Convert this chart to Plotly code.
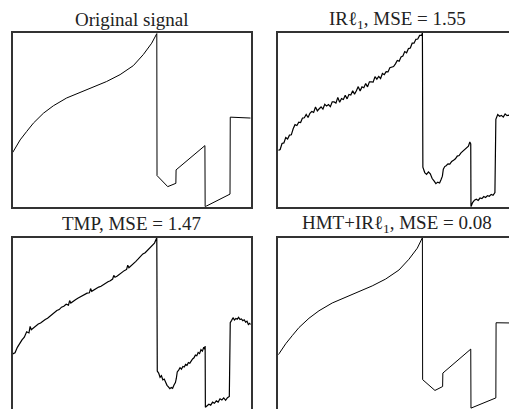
import plotly.graph_objects as go

# ---------------------------------------------------------------------------
# Piece-regular test signal (sample index 0..1024) and three reconstructions
# ---------------------------------------------------------------------------
N_SAMPLES = 1024
Y_MIN, Y_MAX = -14.0, 44.0

ELL = "<span style=\"font-family:'DejaVu Serif'\">\u2113</span>"
titles = [
    "Original signal",
    "IR" + ELL + "<sub>1</sub>, MSE = 1.55",
    "TMP, MSE = 1.47",
    "HMT+IR" + ELL + "<sub>1</sub>, MSE = 0.08",
]

# Original signal
orig_x = [0, 32, 60, 89, 132, 175, 232, 290, 347, 404, 462, 519, 562, 598, 620,
          621, 667, 702, 703, 827,
          828, 935,
          936, 1024]
orig_y = [4.1, 8.3, 11.1, 13.9, 17.2, 19.7, 22.3, 24.2, 25.9, 27.8, 30.1, 33.1, 36.8, 40.6, 43.8,
          -3.6, -7.3, -6.2, -1.7, 6.4,
          -14.0, -9.8,
          15.9, 15.6]

# IR-l1 reconstruction
irl1_x = [0, 8, 16, 24, 32, 40, 48, 56, 64, 72, 80, 88, 96, 104, 112, 120, 128, 136,
          144, 152, 160, 168, 176, 184, 192, 200, 208, 216, 224, 232, 240, 248, 256,
          264, 272, 280, 288, 296, 304, 312, 320, 328, 336, 344, 352, 360, 368, 376,
          384, 392, 400, 408, 416, 424, 432, 440, 448, 456, 464, 472, 480, 488, 496,
          504, 512, 520, 528, 536, 544, 552, 560, 568, 576, 584, 592, 600, 608, 616,
          620,
          622, 630, 638, 646, 654, 662, 670, 678, 686, 694, 700, 706, 710, 716, 722,
          730, 738, 746, 754, 762, 770, 778, 786, 794, 802, 810, 818, 824, 828,
          829, 836, 844, 852, 860, 868, 876, 884, 892, 900, 908, 916, 924, 932,
          936, 944, 952, 960, 968, 976, 984, 992, 1000, 1010, 1024]
irl1_y = [4.8, 5.1, 7.1, 7.3, 9.1, 8.6, 9.9, 10.0, 12.0, 13.4, 13.1, 14.2, 14.1, 15.6,
          15.7, 16.8, 15.8, 17.2, 17.8, 17.5, 19.3, 18.0, 18.7, 19.3, 18.6, 20.2, 19.6,
          20.1, 19.4, 21.0, 21.0, 20.6, 22.5, 20.9, 22.1, 21.8, 23.2, 22.0, 23.5, 23.3,
          24.7, 23.6, 24.7, 26.1, 24.6, 26.0, 25.7, 27.1, 26.0, 27.7, 27.7, 27.6, 29.4,
          28.6, 29.5, 28.8, 30.5, 30.1, 31.1, 31.0, 32.4, 32.7, 32.8, 33.7, 34.8, 34.6,
          36.0, 36.3, 37.8, 37.4, 38.8, 39.0, 40.6, 40.6, 41.9, 42.0, 43.2, 43.2,
          44.0,
          -0.8, -2.6, -3.2, -2.4, -3.0, -4.6, -5.4, -6.3, -5.8, -6.1, -5.0, -3.8, -1.5,
          -0.6, -0.3, 0.3, 0.2, 1.1, 1.5, 2.0, 2.9, 3.1, 4.0, 4.6, 5.0, 5.9, 6.2, 7.6, 7.0,
          -14.0, -12.6, -11.8, -11.5, -11.9, -11.1, -11.3, -10.6, -10.9, -10.3, -10.5,
          -9.9, -10.2, -9.3,
          15.2, 16.8, 16.2, 16.5, 15.9, 17.0, 16.4, 16.6, 16.1, 16.4, 16.0]

# TMP reconstruction
tmp_x = [0, 10, 20, 30, 40, 50, 60, 70, 75, 80, 90, 100, 110, 120, 130, 140, 150, 160,
         170, 180, 190, 200, 210, 220, 230, 240, 245, 250, 260, 270, 280, 290, 300, 310,
         320, 330, 335, 340, 350, 360, 370, 380, 390, 400, 410, 420, 430, 435, 440, 450,
         460, 470, 480, 490, 495, 500, 510, 520, 530, 540, 550, 560, 570, 580, 590, 600,
         610, 620,
         622, 628, 634, 640, 646, 652, 658, 664, 670, 676, 682, 688, 694, 700, 704, 708,
         714, 720, 726, 732, 738, 744, 750, 756, 762, 768, 774, 780, 786, 792, 798, 804,
         810, 816, 822, 826, 828,
         829, 836, 844, 852, 860, 868, 876, 884, 892, 900, 908, 916, 924, 932,
         936, 942, 948, 954, 960, 966, 972, 978, 984, 990, 996, 1002, 1008, 1014, 1020,
         1024]
tmp_y = [5.2, 5.6, 7.4, 8.7, 9.9, 10.8, 12.6, 12.2, 14.4, 13.3, 14.0, 14.6, 15.2, 15.5,
         16.2, 16.7, 17.1, 17.8, 18.3, 18.9, 19.7, 20.0, 20.8, 21.1, 21.8, 21.5, 23.0,
         22.2, 22.9, 23.3, 23.8, 24.2, 24.6, 25.0, 25.5, 25.6, 27.0, 26.1, 26.6, 27.0,
         27.5, 27.8, 28.4, 28.7, 29.3, 29.6, 30.2, 31.4, 30.8, 31.2, 31.9, 32.3, 33.0,
         33.4, 34.8, 34.0, 34.6, 35.2, 36.1, 36.9, 37.8, 38.6, 39.0, 39.8, 40.3, 41.4,
         42.2, 44.0,
         -0.5, -1.2, -2.6, -2.1, -3.5, -3.2, -4.3, -5.3, -5.8, -6.4, -6.0, -6.3, -5.2,
         -4.4, -3.0, -0.8, -0.2, 0.6, 0.1, 1.0, 0.8, 1.7, 1.4, 2.3, 2.1, 3.0, 3.5, 3.9,
         4.8, 4.6, 5.7, 5.3, 6.6, 6.1, 7.4, 6.8, 7.8,
         -12.6, -12.0, -11.6, -11.9, -10.9, -11.3, -10.5, -10.9, -9.8, -10.2, -9.5,
         -10.3, -9.4, -9.0,
         15.6, 16.4, 17.3, 16.5, 17.0, 16.8, 17.4, 16.7, 16.9, 16.3, 16.6, 15.8, 16.1,
         15.0, 15.4, 15.0]

# HMT + IR-l1 reconstruction
hmt_x = [0, 32, 60, 89, 132, 175, 232, 290, 347, 404, 462, 519, 562, 598, 620,
         621, 674, 707, 708, 828,
         829, 936,
         937, 1024]
hmt_y = [4.9, 8.6, 11.3, 14.0, 17.1, 19.6, 22.2, 24.2, 25.9, 27.9, 30.2, 33.2, 36.8, 40.5, 44.0,
         -3.4, -7.0, -5.7, -1.2, 6.8,
         -12.9, -9.5,
         15.6, 15.5]

series = [(orig_x, orig_y), (irl1_x, irl1_y), (tmp_x, tmp_y), (hmt_x, hmt_y)]
line_widths = [1.0, 1.2, 1.2, 1.0]

# ---------------------------------------------------------------------------
# Layout: 2x2 panels; the right column and bottom row run past the page edge
# ---------------------------------------------------------------------------
W, H = 509, 409
panel_w, panel_h = 238.0, 173.7
col_left = [12.7, 278.3]   # px from left
row_top = [33.0, 237.7]    # px from top

fig = go.Figure()
frame = dict(color="#333333", width=1.5)

for k, (xs, ys) in enumerate(series):
    r, c = divmod(k, 2)
    x0 = col_left[c]
    x1 = x0 + panel_w
    y0 = row_top[r]
    y1 = y0 + panel_h
    # visible part of the panel, and matching data ranges
    vx1 = min(x1, W)
    vy1 = min(y1, H)
    xr = [0, N_SAMPLES * (vx1 - x0) / panel_w]
    yr = [Y_MAX - (Y_MAX - Y_MIN) * (vy1 - y0) / panel_h, Y_MAX]
    n = "" if k == 0 else str(k + 1)
    fig.add_trace(go.Scatter(x=xs, y=ys, mode="lines",
                             line=dict(color="black", width=line_widths[k]),
                             xaxis="x" + n, yaxis="y" + n,
                             hoverinfo="skip", showlegend=False))
    xa = dict(domain=[x0 / W, vx1 / W], range=xr, showgrid=False, zeroline=False,
              showticklabels=False, ticks="", showline=True,
              linecolor=frame["color"], linewidth=frame["width"],
              mirror=(vy1 == y1), side="bottom" if vy1 == y1 else "top",
              anchor="y" + n)
    ya = dict(domain=[1 - vy1 / H, 1 - y0 / H], range=yr, showgrid=False, zeroline=False,
              showticklabels=False, ticks="", showline=True,
              linecolor=frame["color"], linewidth=frame["width"],
              mirror=(vx1 == x1), anchor="x" + n)
    fig.layout["xaxis" + n] = xa
    fig.layout["yaxis" + n] = ya
    fig.add_annotation(text=titles[k], xref="paper", yref="paper",
                       x=(x0 + x1) / 2 / W, y=1 - (y0 - 14) / H,
                       xanchor="center", yanchor="middle", showarrow=False,
                       font=dict(family="Liberation Serif, Times New Roman, serif",
                                 size=19, color="#222222"))

fig.update_layout(width=W, height=H, margin=dict(l=0, r=0, t=0, b=0),
                  paper_bgcolor="white", plot_bgcolor="white")

fig.write_html("out.html")
